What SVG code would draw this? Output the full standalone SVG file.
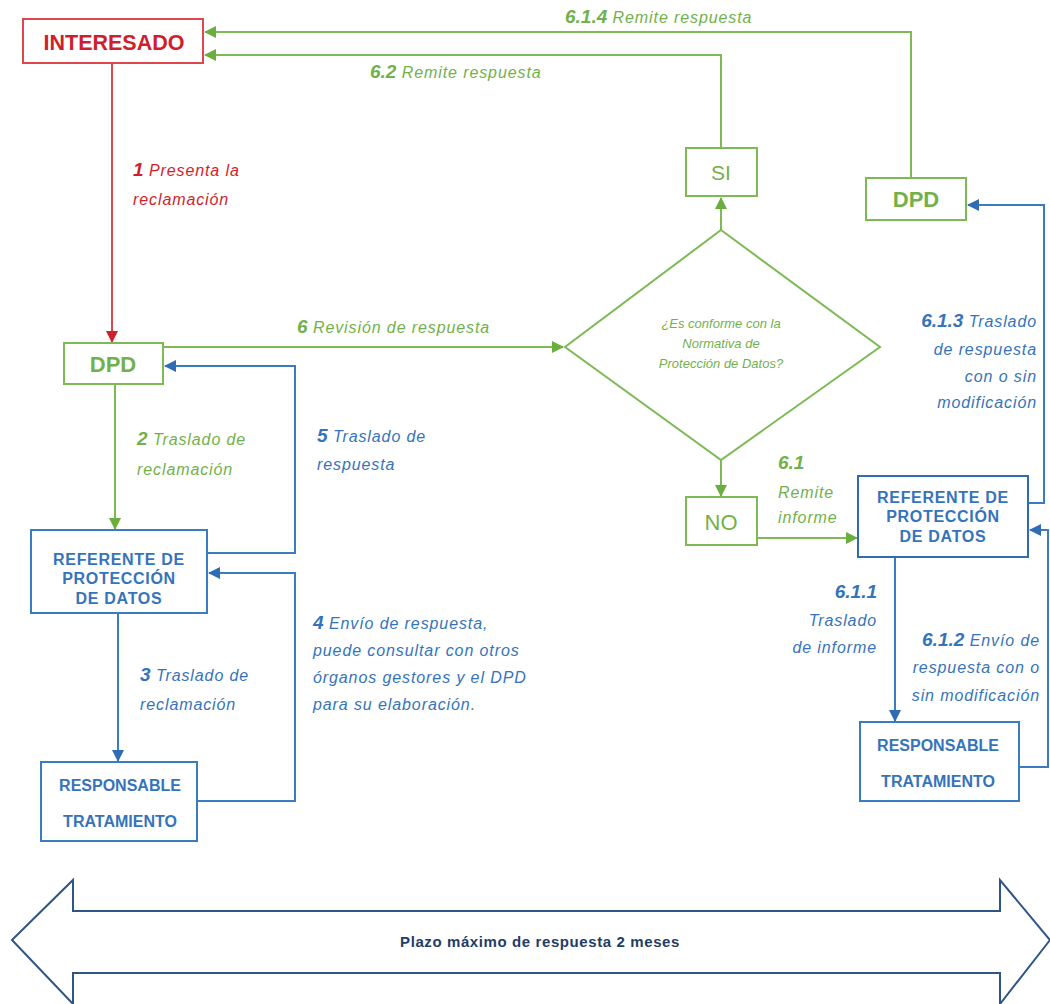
<svg xmlns="http://www.w3.org/2000/svg" width="1050" height="1004" viewBox="0 0 1050 1004">
<style>
  .g{stroke:#7DB955;fill:none;stroke-width:2}
  .b{stroke:#3A7CC0;fill:none;stroke-width:2}
  .r{stroke:#E0474C;fill:none;stroke-width:2}
  .box{fill:#fff;stroke-width:2}
  .lbl{font-family:"Liberation Sans",Arial,sans-serif;font-style:italic;font-size:16px;letter-spacing:0.9px}
  .num{font-weight:bold;font-size:19px;letter-spacing:0}
  .gt{fill:#72B14A}
  .bt{fill:#3574BA}
  .rt{fill:#D01E2A}
  .node{font-family:"Liberation Sans",Arial,sans-serif;font-weight:bold;text-anchor:middle}
  .ref{font-size:16px;letter-spacing:0.7px}
  .plain{font-weight:normal}
</style>
<defs>
  <marker id="ag" markerWidth="12" markerHeight="12" refX="11" refY="6" orient="auto" markerUnits="userSpaceOnUse"><path d="M0,0 L12,6 L0,12 Z" fill="#6AAE3F"/></marker>
  <marker id="ab" markerWidth="12" markerHeight="12" refX="11" refY="6" orient="auto" markerUnits="userSpaceOnUse"><path d="M0,0 L12,6 L0,12 Z" fill="#2E6DB4"/></marker>
  <marker id="ar" markerWidth="12" markerHeight="12" refX="11" refY="6" orient="auto" markerUnits="userSpaceOnUse"><path d="M0,0 L12,6 L0,12 Z" fill="#D01E2A"/></marker>
</defs>
<rect width="1050" height="1004" fill="#fff"/>

<g id="connectors">
  <path class="r" d="M112,63 V342" marker-end="url(#ar)"/>
  <path class="g" d="M911,178 V32 H205" marker-end="url(#ag)"/>
  <path class="g" d="M721,148 V55 H205" marker-end="url(#ag)"/>
  <path class="g" d="M163,347 H563" marker-end="url(#ag)"/>
  <path class="g" d="M115,384 V529" marker-end="url(#ag)"/>
  <path class="b" d="M207,553 H295 V366 H165" marker-end="url(#ab)"/>
  <path class="b" d="M118,613 V761" marker-end="url(#ab)"/>
  <path class="b" d="M197,801 H295 V573 H209" marker-end="url(#ab)"/>
  <path class="g" d="M721,230 V198" marker-end="url(#ag)"/>
  <path class="g" d="M721,460 V496" marker-end="url(#ag)"/>
  <path class="g" d="M757,538 H857" marker-end="url(#ag)"/>
  <path class="b" d="M1028,503 H1044 V205 H968" marker-end="url(#ab)"/>
  <path class="b" d="M895,557 V721" marker-end="url(#ab)"/>
  <path class="b" d="M1019,767 H1048 V530 H1030" marker-end="url(#ab)"/>
</g>

<g id="labels">
  <text class="lbl rt" x="133" y="176"><tspan class="num">1</tspan> Presenta la<tspan x="133" y="205">reclamación</tspan></text>
  <text class="lbl gt" x="565" y="23"><tspan class="num">6.1.4</tspan> Remite respuesta</text>
  <text class="lbl gt" x="370" y="78"><tspan class="num">6.2</tspan> Remite respuesta</text>
  <text class="lbl gt" x="297" y="333"><tspan class="num">6</tspan> Revisión de respuesta</text>
  <text class="lbl gt" x="137" y="445"><tspan class="num">2</tspan> Traslado de<tspan x="137" y="475">reclamación</tspan></text>
  <text class="lbl bt" x="317" y="442"><tspan class="num">5</tspan> Traslado de<tspan x="317" y="470">respuesta</tspan></text>
  <text class="lbl bt" x="140" y="681"><tspan class="num">3</tspan> Traslado de<tspan x="140" y="710">reclamación</tspan></text>
  <text class="lbl bt" x="313" y="629"><tspan class="num">4</tspan> Envío de respuesta,<tspan x="313" y="656">puede consultar  con otros</tspan><tspan x="313" y="683">órganos gestores y el DPD</tspan><tspan x="313" y="710">para su elaboración.</tspan></text>
  <text class="lbl bt" text-anchor="end" x="1037" y="327"><tspan class="num">6.1.3</tspan> Traslado<tspan x="1037" y="355">de respuesta</tspan><tspan x="1037" y="382">con o sin</tspan><tspan x="1037" y="408">modificación</tspan></text>
  <text class="lbl gt" x="778" y="469"><tspan class="num">6.1</tspan><tspan x="778" y="498">Remite</tspan><tspan x="778" y="523">informe</tspan></text>
  <text class="lbl bt" text-anchor="end" x="877" y="598"><tspan class="num">6.1.1</tspan><tspan x="877" y="626">Traslado</tspan><tspan x="877" y="653">de informe</tspan></text>
  <text class="lbl bt" text-anchor="end" x="1040" y="646"><tspan class="num">6.1.2</tspan> Envío de<tspan x="1040" y="673">respuesta con o</tspan><tspan x="1040" y="701">sin modificación</tspan></text>
</g>

<g id="interesado">
  <rect class="box" x="23" y="19" width="180" height="44" stroke="#E0474C"/>
  <text class="node rt" x="114" y="50" font-size="21.5">INTERESADO</text>
</g>
<g id="dpd-left">
  <rect class="box" x="64" y="343" width="99" height="41" stroke="#7DB955"/>
  <text class="node gt" x="113" y="372" font-size="22">DPD</text>
</g>
<g id="referente-left">
  <rect class="box" x="31" y="530" width="176" height="83" stroke="#3A7CC0"/>
  <text class="node bt ref" x="119" y="565">REFERENTE DE<tspan x="119" y="584">PROTECCIÓN</tspan><tspan x="119" y="604">DE DATOS</tspan></text>
</g>
<g id="responsable-left">
  <rect class="box" x="41" y="762" width="156" height="79" stroke="#3A7CC0"/>
  <text class="node bt" font-size="16" x="120" y="791">RESPONSABLE<tspan x="120" y="827">TRATAMIENTO</tspan></text>
</g>
<g id="decision">
  <polygon class="box" points="721,230 880,347 721,460 565,347" stroke="#7DB955"/>
  <text font-family="Liberation Sans,Arial,sans-serif" font-style="italic" font-size="13" class="gt" text-anchor="middle" x="721" y="328">¿Es conforme con la<tspan x="721" y="348">Normativa de</tspan><tspan x="721" y="368">Protección de Datos?</tspan></text>
</g>
<g id="si">
  <rect class="box" x="686" y="148" width="71" height="48" stroke="#7DB955"/>
  <text class="node gt plain" x="721" y="180" font-size="21">SI</text>
</g>
<g id="dpd-right">
  <rect class="box" x="866" y="178" width="100" height="42" stroke="#7DB955"/>
  <text class="node gt" x="916" y="207" font-size="22">DPD</text>
</g>
<g id="no">
  <rect class="box" x="686" y="497" width="71" height="48" stroke="#7DB955"/>
  <text class="node gt plain" x="721" y="530" font-size="22">NO</text>
</g>
<g id="referente-right">
  <rect class="box" x="858" y="476" width="170" height="81" stroke="#2E6DB4"/>
  <text class="node bt ref" x="943" y="503">REFERENTE DE<tspan x="943" y="522">PROTECCIÓN</tspan><tspan x="943" y="542">DE DATOS</tspan></text>
</g>
<g id="responsable-right">
  <rect class="box" x="860" y="722" width="159" height="79" stroke="#3A7CC0"/>
  <text class="node bt" font-size="16" x="938" y="751">RESPONSABLE<tspan x="938" y="787">TRATAMIENTO</tspan></text>
</g>
<g id="plazo">
  <path d="M12,940 L73,880 V911 H1000 V880 L1050,940 L1000,1004 V973 H73 V1004 Z" fill="#fff" stroke="#2F5585" stroke-width="2"/>
  <text x="540" y="947" font-family="Liberation Sans,Arial,sans-serif" font-weight="bold" font-size="15" letter-spacing="0.6" fill="#1F3D66" text-anchor="middle">Plazo máximo de respuesta 2 meses</text>
</g>
</svg>
